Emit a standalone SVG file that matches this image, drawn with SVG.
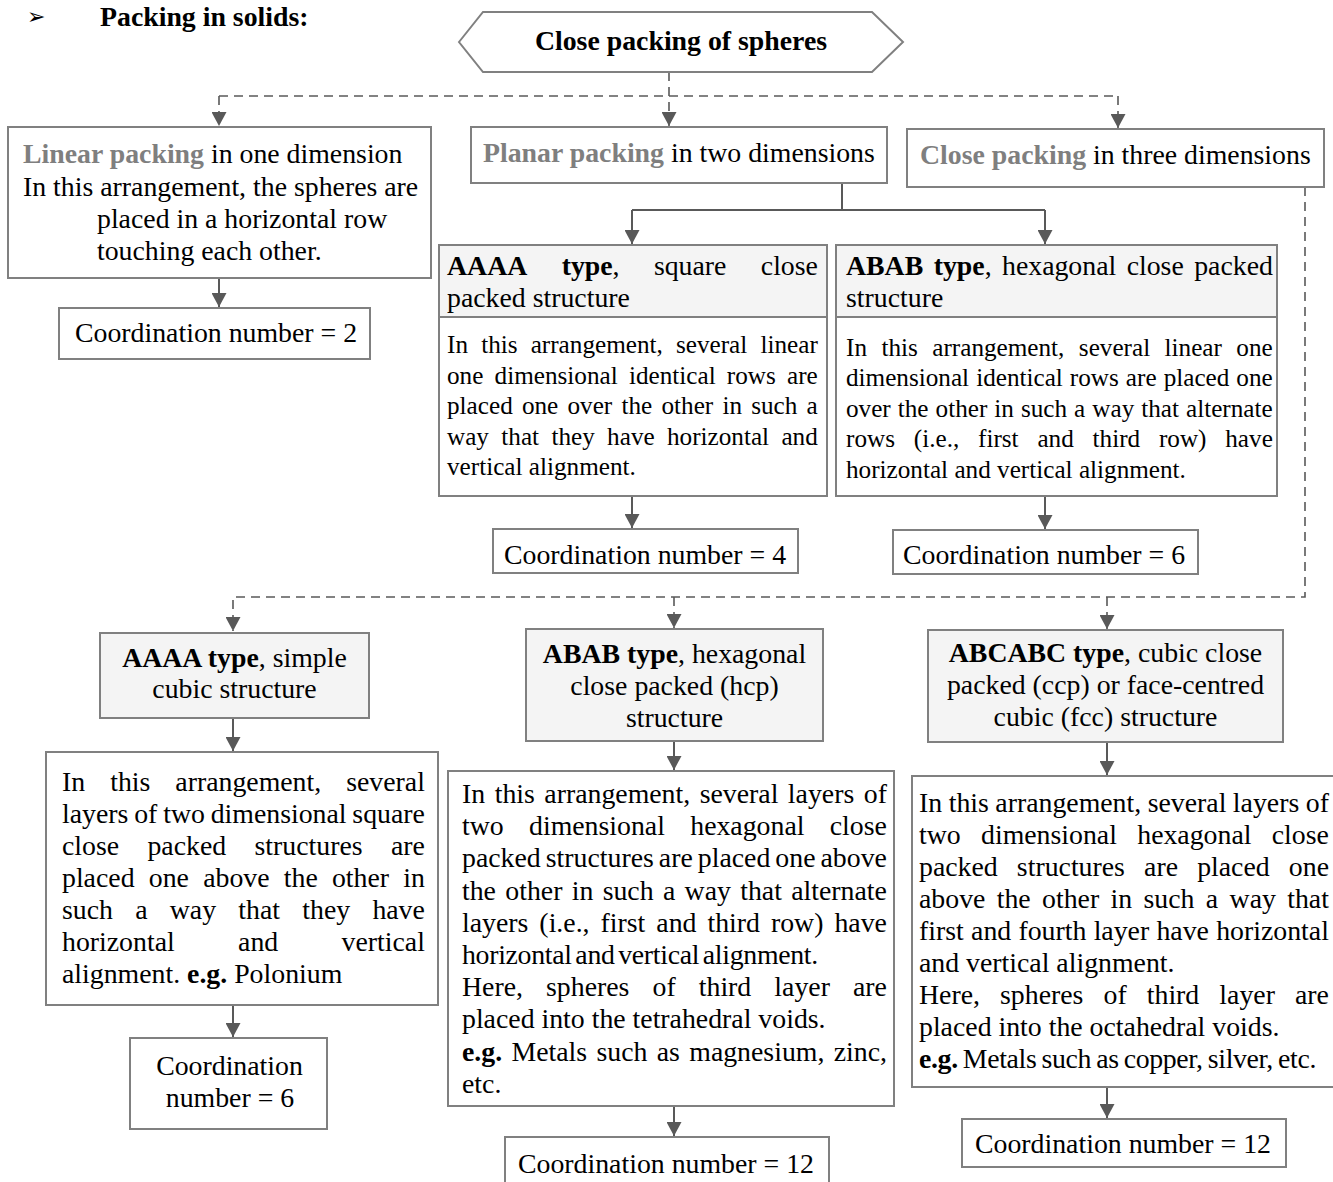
<svg xmlns="http://www.w3.org/2000/svg" width="1333" height="1182" viewBox="0 0 1333 1182">
<defs>
<style>
.t{font-family:'Liberation Serif','Times New Roman',serif;font-size:27.8px;fill:#000}
.s{font-size:25.2px}
.b{font-weight:bold}
.g{font-weight:bold;fill:#7f7f7f}
.m{text-anchor:middle}
.box{fill:#fff;stroke:#808080;stroke-width:2}
.hd{fill:#f4f4f4;stroke:#808080;stroke-width:2}
.c{fill:none;stroke:#595959;stroke-width:2}
.d{stroke-dasharray:9 6;stroke-width:1.6}
</style>
<marker id="ah" viewBox="0 0 14 15" refX="14" refY="7.5" markerWidth="14" markerHeight="15" markerUnits="userSpaceOnUse" orient="auto"><path d="M0,0 L14,7.5 L0,15 z" fill="#595959"/></marker>
</defs>
<rect width="1333" height="1182" fill="#fff"/>

<g id="heading">
<text x="27" y="24" style="font-family:'DejaVu Sans',sans-serif;font-size:22px">➢</text>
<text class="t b" x="100" y="26">Packing in solids:</text>
</g>

<g id="connectors">
<path class="c d" d="M669,72 V126" marker-end="url(#ah)"/>
<path class="c d" d="M219,96 H1118"/>
<path class="c d" d="M219,96 V126" marker-end="url(#ah)"/>
<path class="c d" d="M1118,96 V128" marker-end="url(#ah)"/>
<path class="c d" d="M1305,187 V597 H233 V631" marker-end="url(#ah)"/>
<path class="c d" d="M674,597 V628" marker-end="url(#ah)"/>
<path class="c d" d="M1107,597 V629" marker-end="url(#ah)"/>
<path class="c" d="M219,278 V307" marker-end="url(#ah)"/>
<path class="c" d="M842,183 V210 M632,210 H1045"/>
<path class="c" d="M632,210 V244" marker-end="url(#ah)"/>
<path class="c" d="M1045,210 V244" marker-end="url(#ah)"/>
<path class="c" d="M632,496 V528" marker-end="url(#ah)"/>
<path class="c" d="M1045,496 V529" marker-end="url(#ah)"/>
<path class="c" d="M233,718 V751" marker-end="url(#ah)"/>
<path class="c" d="M233,1005 V1037" marker-end="url(#ah)"/>
<path class="c" d="M674,741 V770" marker-end="url(#ah)"/>
<path class="c" d="M674,1106 V1136" marker-end="url(#ah)"/>
<path class="c" d="M1107,742 V775" marker-end="url(#ah)"/>
<path class="c" d="M1107,1087 V1118" marker-end="url(#ah)"/>
</g>

<g id="root">
<polygon class="box" points="459,42 483,12 872,12 903,42 872,72 483,72"/>
<text class="t b m" x="681" y="50">Close packing of spheres</text>
</g>

<g id="linear">
<rect class="box" x="8" y="127" width="423" height="151"/>
<text class="t" x="23" y="163"><tspan class="g">Linear packing</tspan> in one dimension</text>
<text class="t" x="23" y="195.5">In this arrangement, the spheres are</text>
<text class="t" x="97" y="228">placed in a horizontal row</text>
<text class="t" x="97" y="260">touching each other.</text>
</g>

<g id="cn2">
<rect class="box" x="59" y="308" width="311" height="51"/>
<text class="t" x="75" y="342">Coordination number = 2</text>
</g>

<g id="planar">
<rect class="box" x="471" y="127" width="416" height="56"/>
<text class="t" x="483" y="162"><tspan class="g">Planar packing</tspan> in two dimensions</text>
</g>

<g id="close3d">
<rect class="box" x="907" y="129" width="417" height="58"/>
<text class="t" x="920" y="164"><tspan class="g">Close packing</tspan> in three dimensions</text>
</g>

<g id="aaaa-square">
<rect class="hd" x="439" y="245" width="388" height="72"/>
<rect class="box" x="439" y="317" width="388" height="179"/>
<text class="t" x="447" y="275" word-spacing="27.4"><tspan class="b">AAAA</tspan> <tspan class="b">type</tspan>, square close</text>
<text class="t" x="447" y="307">packed structure</text>
<text class="t s" x="447" y="353" word-spacing="6.85">In this arrangement, several linear</text>
<text class="t s" x="447" y="384" word-spacing="4.92">one dimensional identical rows are</text>
<text class="t s" x="447" y="414" word-spacing="2.91">placed one over the other in such a</text>
<text class="t s" x="447" y="445" word-spacing="6.04">way that they have horizontal and</text>
<text class="t s" x="447" y="475">vertical alignment.</text>
</g>

<g id="abab-hex">
<rect class="hd" x="836" y="245" width="441" height="72"/>
<rect class="box" x="836" y="317" width="441" height="179"/>
<text class="t" x="846" y="275" word-spacing="3.48"><tspan class="b">ABAB type</tspan>, hexagonal close packed</text>
<text class="t" x="846" y="307">structure</text>
<text class="t s" x="846" y="356" word-spacing="8.14">In this arrangement, several linear one</text>
<text class="t s" x="846" y="386" word-spacing="0.72">dimensional identical rows are placed one</text>
<text class="t s" x="846" y="417" word-spacing="0.71">over the other in such a way that alternate</text>
<text class="t s" x="846" y="447" word-spacing="12.5">rows (i.e., first and third row) have</text>
<text class="t s" x="846" y="478">horizontal and vertical alignment.</text>
</g>

<g id="cn4">
<rect class="box" x="493" y="529" width="305" height="44"/>
<text class="t" x="504" y="564">Coordination number = 4</text>
</g>

<g id="cn6a">
<rect class="box" x="893" y="530" width="305" height="44"/>
<text class="t" x="903" y="564">Coordination number = 6</text>
</g>

<g id="aaaa-cubic">
<rect class="hd" x="100" y="633" width="269" height="85"/>
<text class="t m" x="234.5" y="667"><tspan class="b">AAAA type</tspan>, simple</text>
<text class="t m" x="234.5" y="698">cubic structure</text>
</g>

<g id="aaaa-cubic-desc">
<rect class="box" x="46" y="752" width="392" height="253"/>
<text class="t" x="62" y="791" word-spacing="18.05">In this arrangement, several</text>
<text class="t" x="62" y="823" word-spacing="-1.13">layers of two dimensional square</text>
<text class="t" x="62" y="855" word-spacing="21.4">close packed structures are</text>
<text class="t" x="62" y="887" word-spacing="7.29">placed one above the other in</text>
<text class="t" x="62" y="919" word-spacing="15.3">such a way that they have</text>
<text class="t" x="62" y="951" word-spacing="56.4">horizontal and vertical</text>
<text class="t" x="62" y="983">alignment. <tspan class="b">e.g.</tspan> Polonium</text>
</g>

<g id="cn6b">
<rect class="box" x="130" y="1038" width="197" height="91"/>
<text class="t m" x="229.5" y="1075">Coordination</text>
<text class="t m" x="230" y="1107">number = 6</text>
</g>

<g id="abab-hcp">
<rect class="hd" x="526" y="629" width="297" height="112"/>
<text class="t m" x="674.5" y="663"><tspan class="b">ABAB type</tspan>, hexagonal</text>
<text class="t m" x="674.5" y="695">close packed (hcp)</text>
<text class="t m" x="674.5" y="727">structure</text>
</g>

<g id="abab-hcp-desc">
<rect class="box" x="448" y="771" width="446" height="335"/>
<text class="t" x="462" y="803" word-spacing="2.55">In this arrangement, several layers of</text>
<text class="t" x="462" y="835.2" word-spacing="18.38">two dimensional hexagonal close</text>
<text class="t" x="462" y="867.4" word-spacing="-1.92">packed structures are placed one above</text>
<text class="t" x="462" y="899.6" word-spacing="2.37">the other in such a way that alternate</text>
<text class="t" x="462" y="931.8" word-spacing="4.05">layers (i.e., first and third row) have</text>
<text class="t" x="462" y="964" word-spacing="-3" letter-spacing="-0.3">horizontal and vertical alignment.</text>
<text class="t" x="462" y="996.2" word-spacing="16.15">Here, spheres of third layer are</text>
<text class="t" x="462" y="1028.4">placed into the tetrahedral voids.</text>
<text class="t" x="462" y="1060.6" word-spacing="2.39"><tspan class="b">e.g.</tspan> Metals such as magnesium, zinc,</text>
<text class="t" x="462" y="1092.8">etc.</text>
</g>

<g id="cn12a">
<rect class="box" x="505" y="1137" width="324" height="50"/>
<text class="t" x="518" y="1173">Coordination number = 12</text>
</g>

<g id="abcabc-ccp">
<rect class="hd" x="928" y="630" width="355" height="112"/>
<text class="t m" x="1105.5" y="662"><tspan class="b">ABCABC type</tspan>, cubic close</text>
<text class="t m" x="1105.5" y="694">packed (ccp) or face-centred</text>
<text class="t m" x="1105.5" y="726">cubic (fcc) structure</text>
</g>

<g id="abcabc-ccp-desc">
<rect class="box" x="912" y="776" width="430" height="311"/>
<text class="t" x="919" y="812" word-spacing="-0.45">In this arrangement, several layers of</text>
<text class="t" x="919" y="844" word-spacing="13.38">two dimensional hexagonal close</text>
<text class="t" x="919" y="876" word-spacing="12.2">packed structures are placed one</text>
<text class="t" x="919" y="908" word-spacing="4.42">above the other in such a way that</text>
<text class="t" x="919" y="940" word-spacing="0.32">first and fourth layer have horizontal</text>
<text class="t" x="919" y="972">and vertical alignment.</text>
<text class="t" x="919" y="1004" word-spacing="13.15">Here, spheres of third layer are</text>
<text class="t" x="919" y="1036">placed into the octahedral voids.</text>
<text class="t" x="919" y="1068" word-spacing="-1.5" letter-spacing="-0.35"><tspan class="b">e.g.</tspan> Metals such as copper, silver, etc.</text>
</g>

<g id="cn12b">
<rect class="box" x="962" y="1119" width="324" height="48"/>
<text class="t" x="975" y="1153">Coordination number = 12</text>
</g>
</svg>
